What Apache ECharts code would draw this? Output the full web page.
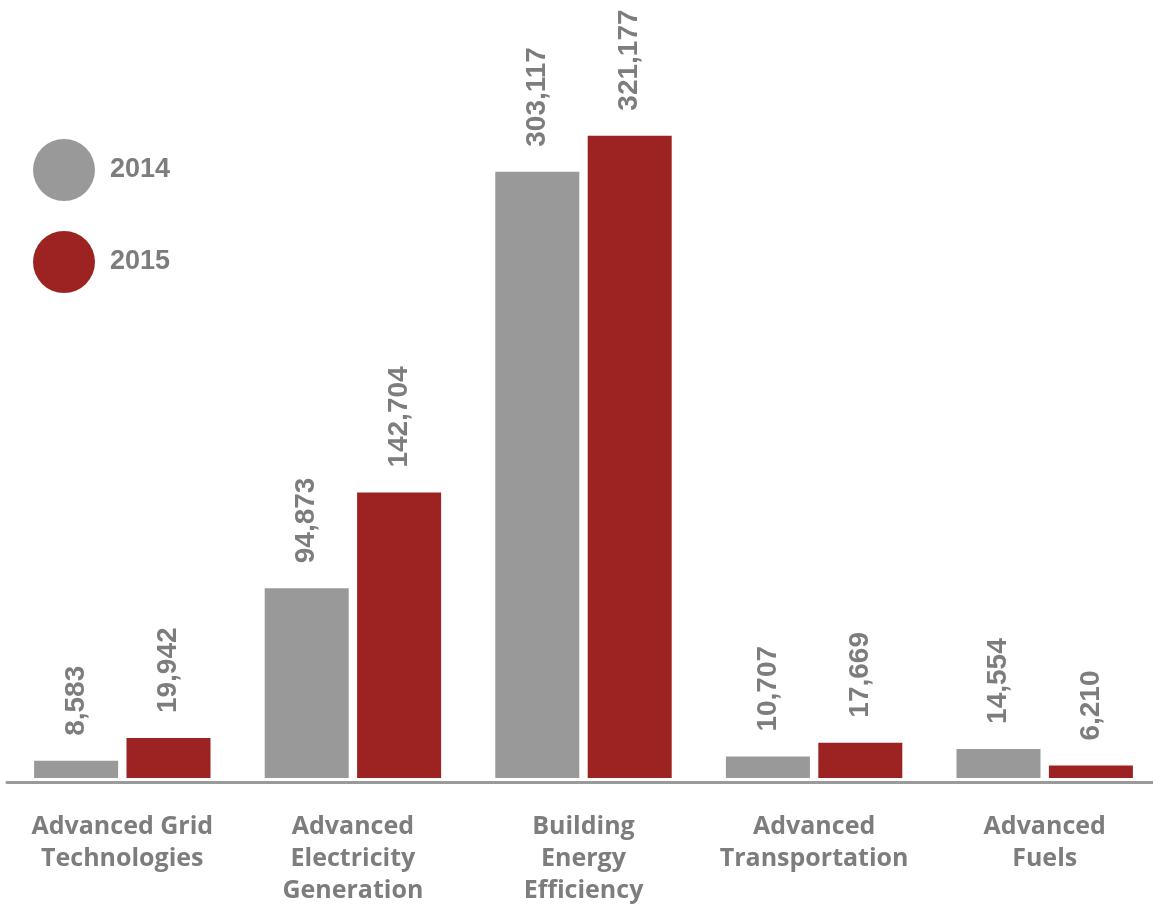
<!DOCTYPE html>
<html>
<head>
<meta charset="utf-8">
<script src="https://cdn.jsdelivr.net/npm/echarts@6/dist/echarts.min.js"></script>
<style>
  html, body { margin: 0; padding: 0; background: #ffffff; overflow: hidden; }
  #chart { width: 1153px; height: 905px; }
</style>
</head>
<body>
<div id="chart"></div>
<script>
// Clean-energy sector figures, 2014 vs 2015
const categories = [
  'Advanced Grid\nTechnologies',
  'Advanced\nElectricity\nGeneration',
  'Building\nEnergy\nEfficiency',
  'Advanced\nTransportation',
  'Advanced\nFuels'
];
const values2014 = [8583, 94873, 303117, 10707, 14554];
const values2015 = [19942, 142704, 321177, 17669, 6210];
const seriesNames = ['2014', '2015'];

const GRAY = '#999999';
const RED = '#9c2322';
const TEXT = '#7d7d7d';

const chart = echarts.init(document.getElementById('chart'), null, { renderer: 'canvas' });

const valueLabel = {
  show: true,
  position: 'top',
  rotate: 90,
  align: 'left',
  verticalAlign: 'middle',
  distance: 25,
  color: TEXT,
  fontFamily: '"Liberation Sans", Arial, sans-serif',
  fontWeight: 'bold',
  fontSize: 28,
  formatter: p => p.value.toLocaleString('en-US')
};

chart.setOption({
  animation: false,
  backgroundColor: '#ffffff',
  legend: {
    orient: 'vertical',
    left: 28,
    top: 134,
    icon: 'circle',
    itemWidth: 62,
    itemHeight: 62,
    itemGap: 30,
    data: seriesNames,
    textStyle: {
      color: TEXT,
      fontFamily: '"Liberation Sans", Arial, sans-serif',
      fontWeight: 'bold',
      fontSize: 27,
      padding: [0, 0, 0, 10]
    }
  },
  grid: {
    left: 7,
    width: 1153,
    top: 78,
    bottom: 127,
    containLabel: false,
    outerBoundsMode: 'none'
  },
  xAxis: {
    type: 'category',
    data: categories,
    offset: 4,
    axisTick: { show: false },
    axisLine: { onZero: false, lineStyle: { color: '#9a9a9a', width: 3 } },
    axisLabel: {
      interval: 0,
      margin: 29,
      color: TEXT,
      fontFamily: '"Open Sans", sans-serif',
      fontWeight: 700,
      fontSize: 25,
      lineHeight: 32
    }
  },
  yAxis: {
    type: 'value',
    min: 0,
    max: 350000,
    show: false,
    splitLine: { show: false }
  },
  series: [
    {
      name: seriesNames[0],
      type: 'bar',
      data: values2014,
      barWidth: 84,
      barGap: '10%',
      itemStyle: { color: GRAY },
      label: valueLabel
    },
    {
      name: seriesNames[1],
      type: 'bar',
      data: values2015,
      barWidth: 84,
      barGap: '10%',
      itemStyle: { color: RED },
      label: valueLabel
    }
  ]
});
</script>
</body>
</html>
